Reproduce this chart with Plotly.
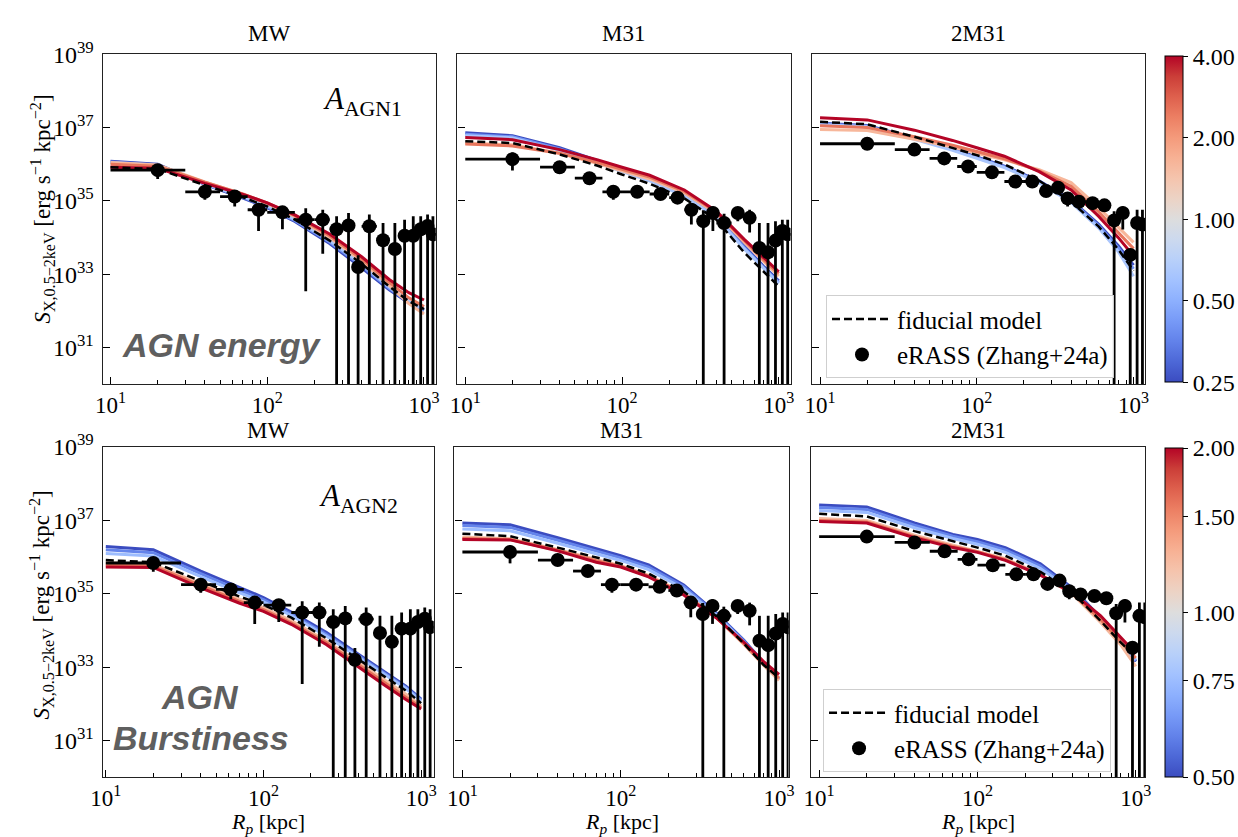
import numpy as np
import plotly.graph_objects as go

W, H = 1238, 837
SERIF = "Liberation Serif"
SANS = "Liberation Sans"

# ---------------- data (log10 of surface brightness) ----------------
R_MODEL = [10, 20, 40, 70, 100, 150, 250, 400, 600, 800, 1000]

R_OBS = [20, 40, 62, 88, 125, 176, 226, 277, 330, 380, 448, 548, 652, 752, 854, 953, 1054, 1140]
R_BIN_LO = [10, 30, 50, 75, 100, 150, 200, 250, 300, 350, 400, 500, 600, 700, 800, 900, 1000, 1100]
R_BIN_HI = [30, 50, 75, 100, 150, 200, 250, 300, 350, 400, 500, 600, 700, 800, 900, 1000, 1100, 1200]

MW_OBS = [35.84, 35.25, 35.12, 34.76, 34.69, 34.49, 34.49, 34.23, 34.33, 33.20, 34.31, 33.93, 33.69, 34.05, 34.05, 34.23, 34.32, 34.09]
MW_UP = [35.96, 35.38, 35.25, 34.89, 34.85, 34.80, 34.76, 34.58, 34.67, 33.52, 34.63, 34.40, 34.40, 34.49, 34.58, 34.58, 34.63, 34.58]
MW_LOW = [35.60, 35.03, 34.85, 34.18, 34.23, 32.54, 33.56, 29, 29, 29, 29, 29, 29, 29, 29, 29, 29, 29]

M31_OBS = [36.14, 35.92, 35.62, 35.25, 35.25, 35.19, 35.09, 34.76, 34.45, 34.67, 34.40, 34.67, 34.54, 33.72, 33.60, 33.92, 34.18, 34.09]
M31_UP = [36.32, 36.00, 35.70, 35.33, 35.32, 35.27, 35.17, 34.94, 34.75, 34.85, 34.65, 34.82, 34.76, 34.40, 34.40, 34.45, 34.49, 34.49]
M31_LOW = [35.83, 35.85, 35.55, 35.03, 35.18, 35.10, 35.00, 34.36, 29, 34.18, 29, 34.45, 34.14, 29, 29, 29, 29, 29]

M2_OBS = [36.56, 36.40, 36.16, 35.94, 35.78, 35.53, 35.53, 35.27, 35.36, 35.07, 34.98, 34.94, 34.88, 34.47, 34.67, 33.53, 34.40, 34.36]
M2_UP = [36.62, 36.46, 36.22, 36.00, 35.84, 35.59, 35.60, 35.33, 35.42, 35.20, 35.05, 35.00, 35.03, 34.72, 34.85, 33.70, 34.76, 34.76]
M2_LOW = [36.50, 36.34, 36.10, 35.88, 35.72, 35.47, 35.46, 35.21, 35.30, 34.85, 34.90, 34.88, 34.72, 29, 34.22, 29, 29, 29]

PARAMS_AGN1 = [0.25, 0.4, 0.63, 1.6, 2.5, 4.0]
PARAMS_AGN2 = [0.5, 0.6, 0.75, 1.25, 1.6, 2.0]

AGN1_MW_FID = [35.92, 35.87, 35.43, 35.10, 34.85, 34.49, 33.92, 33.29, 32.67, 32.27, 32.05]
AGN1_MW = {
    0.25: [36.08, 36.00, 35.45, 35.08, 34.82, 34.44, 33.84, 33.18, 32.58, 32.22, 32.02],
    0.4: [36.06, 35.98, 35.46, 35.10, 34.84, 34.47, 33.88, 33.23, 32.62, 32.24, 32.03],
    0.63: [36.04, 35.96, 35.47, 35.12, 34.87, 34.50, 33.92, 33.28, 32.66, 32.26, 32.04],
    1.6: [36.05, 35.98, 35.52, 35.18, 34.93, 34.57, 34.00, 33.36, 32.70, 32.20, 31.92],
    2.5: [36.00, 35.95, 35.51, 35.19, 34.95, 34.60, 34.05, 33.42, 32.78, 32.36, 32.12],
    4.0: [35.92, 35.89, 35.48, 35.18, 34.95, 34.62, 34.10, 33.48, 32.86, 32.50, 32.30],
}
AGN1_M31_FID = [36.63, 36.58, 36.27, 35.96, 35.72, 35.47, 35.07, 34.49, 33.60, 33.07, 32.67]
AGN1_M31 = {
    0.25: [36.86, 36.78, 36.45, 36.10, 35.85, 35.60, 35.18, 34.60, 33.78, 33.22, 32.82],
    0.4: [36.82, 36.75, 36.42, 36.07, 35.82, 35.58, 35.16, 34.58, 33.74, 33.18, 32.78],
    0.63: [36.78, 36.72, 36.38, 36.03, 35.79, 35.55, 35.13, 34.55, 33.70, 33.15, 32.75],
    1.6: [36.58, 36.53, 36.30, 36.02, 35.82, 35.60, 35.22, 34.66, 33.88, 33.35, 32.95],
    2.5: [36.55, 36.50, 36.30, 36.05, 35.86, 35.65, 35.26, 34.70, 33.93, 33.40, 33.02],
    4.0: [36.73, 36.67, 36.40, 36.12, 35.92, 35.70, 35.30, 34.72, 33.96, 33.45, 33.07],
}
AGN1_2M31_FID = [37.16, 37.09, 36.75, 36.45, 36.25, 36.00, 35.55, 34.98, 34.30, 33.68, 33.10]
AGN1_2M31 = {
    0.25: [37.12, 37.06, 36.72, 36.42, 36.20, 35.95, 35.55, 35.03, 34.36, 33.78, 33.25],
    0.4: [37.10, 37.04, 36.70, 36.40, 36.18, 35.93, 35.52, 35.00, 34.32, 33.72, 33.15],
    0.63: [37.08, 37.02, 36.68, 36.38, 36.16, 35.91, 35.50, 34.96, 34.26, 33.62, 32.95],
    1.6: [36.95, 36.92, 36.68, 36.47, 36.30, 36.12, 35.85, 35.50, 34.82, 34.30, 33.87],
    2.5: [37.05, 37.00, 36.75, 36.52, 36.35, 36.15, 35.82, 35.40, 34.70, 34.15, 33.70],
    4.0: [37.27, 37.21, 36.93, 36.65, 36.45, 36.22, 35.80, 35.30, 34.58, 34.00, 33.50],
}
AGN2_MW_FID = [35.92, 35.86, 35.35, 34.93, 34.70, 34.35, 33.79, 33.21, 32.71, 32.36, 32.02]
AGN2_MW = {
    0.5: [36.29, 36.20, 35.62, 35.17, 34.90, 34.50, 33.95, 33.35, 32.85, 32.48, 32.13],
    0.6: [36.20, 36.12, 35.55, 35.10, 34.84, 34.45, 33.90, 33.31, 32.81, 32.45, 32.10],
    0.75: [36.10, 36.03, 35.47, 35.03, 34.78, 34.41, 33.85, 33.27, 32.77, 32.42, 32.08],
    1.25: [35.85, 35.80, 35.28, 34.86, 34.62, 34.27, 33.72, 33.13, 32.62, 32.26, 31.95],
    1.6: [35.78, 35.76, 35.22, 34.80, 34.57, 34.21, 33.67, 33.06, 32.55, 32.18, 31.90],
    2.0: [35.73, 35.72, 35.16, 34.75, 34.52, 34.17, 33.62, 33.00, 32.48, 32.12, 31.86],
}
AGN2_M31_FID = [36.64, 36.57, 36.26, 36.00, 35.82, 35.55, 35.06, 34.40, 33.64, 33.06, 32.70]
AGN2_M31 = {
    0.5: [36.93, 36.88, 36.53, 36.22, 36.04, 35.79, 35.24, 34.48, 33.73, 33.12, 32.68],
    0.6: [36.86, 36.81, 36.46, 36.16, 35.98, 35.73, 35.20, 34.46, 33.71, 33.10, 32.68],
    0.75: [36.77, 36.72, 36.38, 36.09, 35.91, 35.66, 35.14, 34.43, 33.68, 33.08, 32.68],
    1.25: [36.55, 36.50, 36.21, 35.94, 35.77, 35.50, 35.02, 34.37, 33.62, 33.05, 32.64],
    1.6: [36.51, 36.48, 36.19, 35.90, 35.75, 35.48, 35.00, 34.36, 33.64, 33.09, 32.70],
    2.0: [36.48, 36.47, 36.17, 35.86, 35.73, 35.46, 34.97, 34.35, 33.68, 33.15, 32.80],
}
AGN2_2M31_FID = [37.18, 37.11, 36.71, 36.44, 36.26, 36.04, 35.60, 35.02, 34.26, 33.68, 33.28]
AGN2_2M31 = {
    0.5: [37.42, 37.37, 36.93, 36.62, 36.48, 36.26, 35.82, 35.15, 34.35, 33.73, 33.15],
    0.6: [37.35, 37.30, 36.87, 36.57, 36.42, 36.20, 35.76, 35.11, 34.32, 33.71, 33.17],
    0.75: [37.27, 37.22, 36.80, 36.51, 36.35, 36.13, 35.69, 35.07, 34.29, 33.70, 33.20],
    1.25: [37.05, 37.00, 36.60, 36.33, 36.17, 35.96, 35.53, 34.98, 34.22, 33.62, 33.02],
    1.6: [37.00, 36.96, 36.56, 36.29, 36.15, 35.93, 35.52, 35.00, 34.30, 33.72, 33.25],
    2.0: [36.97, 36.93, 36.53, 36.26, 36.13, 35.91, 35.51, 35.02, 34.40, 33.82, 33.37],
}

TITLES = ["MW", "M31", "2M31"]
CB1_TICKS = [0.25, 0.5, 1.0, 2.0, 4.0]
CB1_TEXT = ["0.25", "0.50", "1.00", "2.00", "4.00"]
CB2_TICKS = [0.5, 0.75, 1.0, 1.5, 2.0]
CB2_TEXT = ["0.50", "0.75", "1.00", "1.50", "2.00"]

# ---------------- colormap (matplotlib coolwarm) ----------------
COOLWARM = [
    (0.0, (0.2298, 0.2987, 0.7537)), (0.0625, (0.3039, 0.4065, 0.8450)),
    (0.125, (0.3830, 0.5094, 0.9174)), (0.1875, (0.4667, 0.6046, 0.9682)),
    (0.25, (0.5530, 0.6889, 0.9954)), (0.3125, (0.6392, 0.7596, 0.9982)),
    (0.375, (0.7222, 0.8140, 0.9766)), (0.4375, (0.7987, 0.8498, 0.9317)),
    (0.5, (0.8654, 0.8654, 0.8654)), (0.5625, (0.9241, 0.8274, 0.7745)),
    (0.625, (0.9589, 0.7698, 0.6780)), (0.6875, (0.9700, 0.6943, 0.5794)),
    (0.75, (0.9580, 0.6028, 0.4818)), (0.8125, (0.9239, 0.4973, 0.3880)),
    (0.875, (0.8692, 0.3783, 0.3003)), (0.9375, (0.7956, 0.2413, 0.2205)),
    (1.0, (0.7057, 0.0156, 0.1502)),
]
CSCALE = [[t, "rgb(%d,%d,%d)" % tuple(int(round(c * 255)) for c in rgb)] for t, rgb in COOLWARM]


def cw(t):
    t = min(max(t, 0.0), 1.0)
    for (t0, c0), (t1, c1) in zip(COOLWARM[:-1], COOLWARM[1:]):
        if t <= t1:
            f = (t - t0) / (t1 - t0) if t1 > t0 else 0
            c = [c0[i] + f * (c1[i] - c0[i]) for i in range(3)]
            return "rgb(%d,%d,%d)" % tuple(int(round(v * 255)) for v in c)
    return CSCALE[-1][1]


def pow10(a):
    return np.power(10.0, np.array(a, dtype=float))


def px(xp):
    return xp / W


def py(yp):
    return 1 - yp / H


# ---------------- layout geometry (pixels) ----------------
XPIX = [[(92, 430), (452, 790), (812, 1150)], [(92, 428), (449, 788), (811, 1150)]]
YPIX = [(38, 375), (439, 776)]
XRANGES = [[(0.95, 3.075)] * 3, [(0.98, 3.08), (0.95, 3.06), (0.95, 3.06)]]

panels = [
    (AGN1_MW_FID, AGN1_MW, MW_OBS, MW_UP, MW_LOW, PARAMS_AGN1),
    (AGN1_M31_FID, AGN1_M31, M31_OBS, M31_UP, M31_LOW, PARAMS_AGN1),
    (AGN1_2M31_FID, AGN1_2M31, M2_OBS, M2_UP, M2_LOW, PARAMS_AGN1),
    (AGN2_MW_FID, AGN2_MW, MW_OBS, MW_UP, MW_LOW, PARAMS_AGN2),
    (AGN2_M31_FID, AGN2_M31, M31_OBS, M31_UP, M31_LOW, PARAMS_AGN2),
    (AGN2_2M31_FID, AGN2_2M31, M2_OBS, M2_UP, M2_LOW, PARAMS_AGN2),
]

fig = go.Figure()
layout = dict(
    width=W, height=H, margin=dict(l=0, r=0, t=0, b=0),
    paper_bgcolor="white", plot_bgcolor="white", showlegend=True,
    font=dict(family=SERIF, size=22, color="black"),
)

r_obs = np.array(R_OBS, dtype=float)
err_x_plus = np.array(R_BIN_HI) - r_obs
err_x_minus = r_obs - np.array(R_BIN_LO)

annotations = []
for k, (fid, curves, obs, up, low, params) in enumerate(panels):
    row, col = divmod(k, 3)
    ax = "" if k == 0 else str(k + 1)
    xref, yref = "x" + ax, "y" + ax
    pmin, pmax = np.log10(params[0]), np.log10(params[-1])
    for p in params:
        t = (np.log10(p) - pmin) / (pmax - pmin)
        fig.add_trace(go.Scatter(
            x=R_MODEL, y=pow10(curves[p]), mode="lines",
            line=dict(color=cw(t), width=3), showlegend=False,
            xaxis=xref, yaxis=yref, hoverinfo="skip"))
    legend_name = "legend" if row == 0 else "legend2"
    show = col == 2
    fig.add_trace(go.Scatter(
        x=R_MODEL, y=pow10(fid), mode="lines", name="fiducial model",
        line=dict(color="black", width=2.5, dash="8px,4px"),
        showlegend=show, legend=legend_name, legendrank=1,
        xaxis=xref, yaxis=yref))
    s = pow10(obs)
    fig.add_trace(go.Scatter(
        x=R_OBS, y=s, mode="markers", name="eRASS (Zhang+24a)",
        marker=dict(color="black", size=14),
        error_y=dict(type="data", symmetric=False, array=pow10(up) - s,
                     arrayminus=s - pow10(low), color="black", thickness=2.8, width=0),
        error_x=dict(type="data", symmetric=False, array=err_x_plus,
                     arrayminus=err_x_minus, color="black", thickness=2.8, width=0),
        showlegend=show, legend=legend_name, legendrank=2,
        xaxis=xref, yaxis=yref))

    x0, x1 = XPIX[row][col]
    y0, y1 = YPIX[row]
    layout["xaxis" + ax] = dict(
        domain=[px(x0), px(x1)], anchor=yref, type="log",
        range=list(XRANGES[row][col]),
        tickvals=[10, 100, 1000],
        ticktext=["10<sup>1</sup>", "10<sup>2</sup>", "10<sup>3</sup>"],
        ticks="inside", ticklen=7, tickwidth=1.2, tickcolor="black",
        minor=dict(ticks="inside", ticklen=4, tickwidth=1, tickcolor="black",
                   tickvals=[m * 10 ** d for d in (0, 1, 2, 3) for m in range(2, 10)]),
        showline=True, linecolor="#222", linewidth=1.3, mirror=True,
        showgrid=False, zeroline=False, tickfont=dict(family=SERIF, size=23),
        ticklabelstandoff=0,
    )
    layout["yaxis" + ax] = dict(
        domain=[py(y1), py(y0)], anchor=xref, type="log",
        range=[30, 39],
        tickvals=[1e31, 1e33, 1e35, 1e37, 1e39],
        ticktext=["10<sup>31</sup>", "10<sup>33</sup>", "10<sup>35</sup>",
                  "10<sup>37</sup>", "10<sup>39</sup>"] if col == 0 else [""] * 5,
        ticks="inside", ticklen=7, tickwidth=1.2, tickcolor="black",
        showline=True, linecolor="#222", linewidth=1.3, mirror=True,
        showgrid=False, zeroline=False, tickfont=dict(family=SERIF, size=24),
        ticklabelstandoff=3,
    )
    # panel titles
    annotations.append(dict(
        text=TITLES[col], x=px((x0 + x1) / 2), y=py(y0 - 17 if row == 1 else y0 - 21),
        xref="paper", yref="paper", showarrow=False, xanchor="center", yanchor="middle",
        font=dict(family=SERIF, size=23)))
    if row == 1:
        annotations.append(dict(
            text="<i>R</i><sub><i>p</i></sub> [kpc]", x=px((x0 + x1) / 2), y=py(823),
            xref="paper", yref="paper", showarrow=False, xanchor="center", yanchor="middle",
            font=dict(family=SERIF, size=22)))

# y-axis labels
for yc in (196, 600):
    annotations.append(dict(
        text="<i>S</i><sub>X,0.5\u22122keV</sub> [erg s<sup>\u22121</sup> kpc<sup>\u22122</sup>]",
        x=px(30), y=py(yc), xref="paper", yref="paper", showarrow=False,
        textangle=-90, xanchor="center", yanchor="middle", font=dict(family=SERIF, size=23)))


# panel labels
def label(text, xc, yc, family, size, color="black"):
    annotations.append(dict(text=text, x=px(xc), y=py(yc), xref="paper", yref="paper",
                            showarrow=False, xanchor="center", yanchor="middle",
                            font=dict(family=family, size=size, color=color)))


label("<i>A</i><sub>AGN1</sub>", 356, 86, SERIF, 31)
label("<i>A</i><sub>AGN2</sub>", 352, 491, SERIF, 31)
label("<b><i>AGN energy</i></b>", 213, 335, SANS, 34, "#5f5f5f")
label("<b><i>AGN</i></b>", 191, 694, SANS, 34, "#5f5f5f")
label("<b><i>Burstiness</i></b>", 192, 736, SANS, 34, "#5f5f5f")
layout["annotations"] = annotations

# colorbars
for (ticks, texts, ytop, ybot) in ((CB1_TICKS, CB1_TEXT, 40, 373), (CB2_TICKS, CB2_TEXT, 440, 776)):
    lo, hi = np.log10(ticks[0]), np.log10(ticks[-1])
    fig.add_trace(go.Scatter(
        x=[None, None], y=[None, None], mode="markers", showlegend=False,
        marker=dict(color=[lo, hi], cmin=lo, cmax=hi, colorscale=CSCALE, showscale=True,
                    colorbar=dict(
                        x=px(1170), xanchor="left", y=py(ytop), yanchor="top",
                        len=(ybot - ytop) / H, lenmode="fraction", thickness=18,
                        xpad=0, ypad=0,
                        outlinecolor="black", outlinewidth=1,
                        tickvals=list(np.log10(ticks)), ticktext=texts,
                        ticks="outside", ticklen=5, tickcolor="black",
                        tickfont=dict(family=SERIF, size=24))),
        xaxis="x", yaxis="y", hoverinfo="skip"))

legend_common = dict(
    xanchor="left", yanchor="top", bgcolor="rgba(255,255,255,0.85)",
    bordercolor="#cfcfcf", borderwidth=1, font=dict(family=SERIF, size=25),
    tracegroupgap=0, itemwidth=60, traceorder="normal",
)
layout["legend"] = dict(x=px(826), y=py(284), **legend_common)
layout["legend2"] = dict(x=px(823), y=py(686), **legend_common)

fig.update_layout(**layout)
fig.write_html("out.html", post_script="document.body.style.margin='0';")
